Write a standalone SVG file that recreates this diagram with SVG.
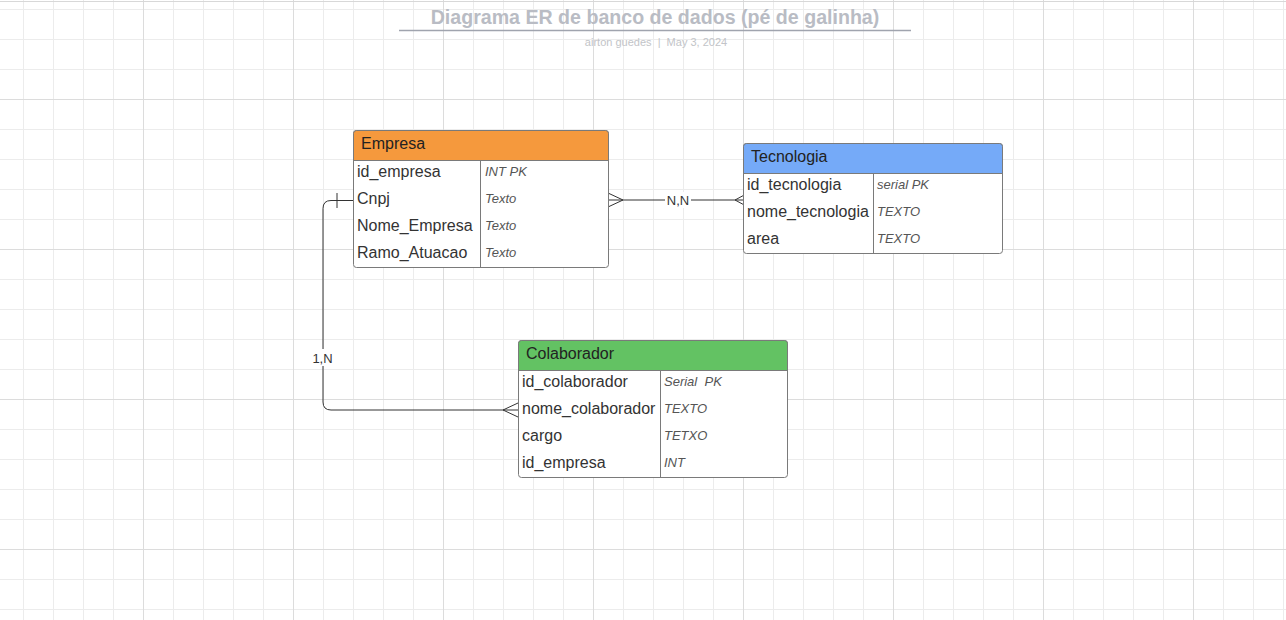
<svg xmlns="http://www.w3.org/2000/svg" width="1286" height="620" viewBox="0 0 1286 620">
<defs>
<pattern id="grid" patternUnits="userSpaceOnUse" x="143" y="99" width="150" height="150">
<rect width="150" height="150" fill="#ffffff"/>
<path d="M30.5 0V150M60.5 0V150M90.5 0V150M120.5 0V150M0 30.5H150M0 60.5H150M0 90.5H150M0 120.5H150" stroke="#ececec" stroke-width="1" fill="none"/>
<path d="M0.5 0V150M0 0.5H150" stroke="#dcdcdc" stroke-width="1" fill="none"/>
</pattern>
<style>
.tbl{fill:#ffffff;stroke:#7a7a7a;stroke-width:1}
.sep{stroke:#7a7a7a;stroke-width:1}
.hdr{font-family:"Liberation Sans",Arial,sans-serif;font-size:16px;fill:#222222}
.nm{font-family:"Liberation Sans",Arial,sans-serif;font-size:16px;fill:#333333}
.ty{font-family:"Liberation Sans",Arial,sans-serif;font-size:13px;font-style:italic;fill:#555555}
.cn{fill:none;stroke:#333333;stroke-width:1}
.lbl{font-family:"Liberation Sans",Arial,sans-serif;font-size:13px;fill:#333333;text-anchor:middle}
</style>
</defs>
<rect width="1286" height="620" fill="url(#grid)"/>
<line x1="0" y1="1.5" x2="1286" y2="1.5" stroke="#d8d8d8"/>

<g id="title">
<text x="655" y="24" text-anchor="middle" font-family="'Liberation Sans',Arial,sans-serif" font-size="19.6" font-weight="bold" fill="#b9bcc4">Diagrama ER de banco de dados (pé de galinha)</text>
<line x1="399" y1="30.5" x2="911" y2="30.5" stroke="#a0a4ae" stroke-width="1.5"/>
<text x="656" y="46" text-anchor="middle" font-family="'Liberation Sans',Arial,sans-serif" font-size="11" fill="#c2c4c8" xml:space="preserve">airton guedes  |  May 3, 2024</text>
</g>

<g id="connectors">
<!-- Empresa - Tecnologia -->
<path class="cn" d="M608 200H743"/>
<path class="cn" d="M608 193L623 200L608 207"/>
<path class="cn" d="M748 193L735 200L748 207"/>
<rect x="665" y="192" width="26" height="16" fill="#ffffff"/>
<text class="lbl" x="678" y="204.5">N,N</text>
<!-- Empresa - Colaborador -->
<path class="cn" d="M353 200.5H331Q323 200.5 323 208.5V402Q323 410 331 410H518"/>
<path class="cn" d="M337 193V208"/>
<path class="cn" d="M518 403L503 410L518 417"/>
<rect x="312" y="349" width="22" height="17" fill="#ffffff"/>
<text class="lbl" x="322.5" y="362.5">1,N</text>
</g>

<g id="empresa">
<rect class="tbl" x="353.5" y="130.5" width="255" height="137" rx="3"/>
<path d="M356.5 130.5H605.5Q608.5 130.5 608.5 133.5V160.5H353.5V133.5Q353.5 130.5 356.5 130.5Z" fill="#f5993d" stroke="#7a7a7a"/>
<line class="sep" x1="480.5" y1="160.5" x2="480.5" y2="267.5"/>
<text class="hdr" x="361" y="149">Empresa</text>
<text class="nm" x="357" y="177">id_empresa</text>
<text class="nm" x="357" y="204">Cnpj</text>
<text class="nm" x="357" y="231">Nome_Empresa</text>
<text class="nm" x="357" y="258">Ramo_Atuacao</text>
<text class="ty" x="485" y="176">INT PK</text>
<text class="ty" x="485" y="203">Texto</text>
<text class="ty" x="485" y="230">Texto</text>
<text class="ty" x="485" y="257">Texto</text>
</g>

<g id="tecnologia">
<rect class="tbl" x="743.5" y="143.5" width="259" height="110" rx="3"/>
<path d="M746.5 143.5H999.5Q1002.5 143.5 1002.5 146.5V173.5H743.5V146.5Q743.5 143.5 746.5 143.5Z" fill="#75aaf8" stroke="#7a7a7a"/>
<line class="sep" x1="873.5" y1="173.5" x2="873.5" y2="253.5"/>
<text class="hdr" x="751" y="162">Tecnologia</text>
<text class="nm" x="747" y="190">id_tecnologia</text>
<text class="nm" x="747" y="217">nome_tecnologia</text>
<text class="nm" x="747" y="244">area</text>
<text class="ty" x="877" y="189">serial PK</text>
<text class="ty" x="877" y="216">TEXTO</text>
<text class="ty" x="877" y="243">TEXTO</text>
</g>

<g id="colaborador">
<rect class="tbl" x="518.5" y="340.5" width="269" height="137" rx="3"/>
<path d="M521.5 340.5H784.5Q787.5 340.5 787.5 343.5V370.5H518.5V343.5Q518.5 340.5 521.5 340.5Z" fill="#63c263" stroke="#7a7a7a"/>
<line class="sep" x1="660.5" y1="370.5" x2="660.5" y2="477.5"/>
<text class="hdr" x="526" y="359">Colaborador</text>
<text class="nm" x="522" y="387">id_colaborador</text>
<text class="nm" x="522" y="414">nome_colaborador</text>
<text class="nm" x="522" y="441">cargo</text>
<text class="nm" x="522" y="468">id_empresa</text>
<text class="ty" x="664" y="386" xml:space="preserve">Serial  PK</text>
<text class="ty" x="664" y="413">TEXTO</text>
<text class="ty" x="664" y="440">TETXO</text>
<text class="ty" x="664" y="467">INT</text>
</g>
</svg>
